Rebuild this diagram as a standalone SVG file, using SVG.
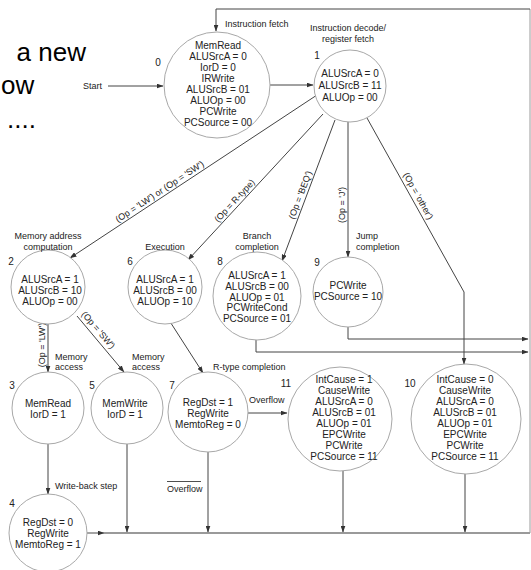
<svg xmlns="http://www.w3.org/2000/svg" width="531" height="570" viewBox="0 0 531 570">
  <style>
    .node circle { fill: #ffffff; stroke: #a8a8a8; stroke-width: 1; }
    .st { font-family: "Liberation Sans", Arial, sans-serif; font-size: 10px; fill: #222; text-anchor: middle; }
    .num { font-family: "Liberation Sans", Arial, sans-serif; font-size: 10px; fill: #222; text-anchor: middle; }
    .lbl { font-family: "Liberation Sans", Arial, sans-serif; font-size: 9px; fill: #222; }
    .mid { text-anchor: middle; }
    .edge { stroke: #444; stroke-width: 1; fill: none; }
    .bus { stroke: #9a9a9a; stroke-width: 1.8; fill: none; }
    .rail { stroke: #9a9a9a; stroke-width: 1; fill: none; }
    .title { font-family: "Liberation Sans", Arial, sans-serif; font-size: 26px; fill: #000; }
  </style>
  <defs>
    <marker id="arr" markerUnits="userSpaceOnUse" markerWidth="7" markerHeight="5" refX="6.5" refY="2.5" orient="auto">
      <path d="M0,0 L7,2.5 L0,5 z" fill="#333"/>
    </marker>
  </defs>

  <rect width="531" height="570" fill="#ffffff"/>

  <!-- slide title fragments -->
  <text class="title" x="86" y="61" text-anchor="end">a new</text>
  <text class="title" x="1" y="94">ow</text>
  <text class="title" x="36" y="128" text-anchor="end">....</text>

  <!-- connectors -->
  <g id="connectors">
    <!-- return path to instruction fetch -->
    <path class="bus" d="M87,533 H104" marker-end="url(#arr)"/>
    <path class="bus" d="M104,533 H530"/>
    <path class="rail" d="M530,533 V9"/>
    <path class="edge" d="M530,9 H216 V31" marker-end="url(#arr)"/>

    <path class="edge" d="M108,86 H163" marker-end="url(#arr)"/>
    <path class="edge" d="M270,85 H313" marker-end="url(#arr)"/>

    <path class="edge" d="M317,95 L70,258" marker-end="url(#arr)"/>
    <path class="edge" d="M323,114 L188,260" marker-end="url(#arr)"/>
    <path class="edge" d="M335,120 L282,261" marker-end="url(#arr)"/>
    <path class="edge" d="M348,122 V257" marker-end="url(#arr)"/>
    <path class="edge" d="M367,118 L464,292 V364" marker-end="url(#arr)"/>

    <path class="edge" d="M48,324 V372" marker-end="url(#arr)"/>
    <path class="edge" d="M77,316 L124,372" marker-end="url(#arr)"/>
    <path class="edge" d="M167,317 L203,373" marker-end="url(#arr)"/>

    <path class="edge" d="M48,444 V494" marker-end="url(#arr)"/>
    <path class="edge" d="M127,444 V532" marker-end="url(#arr)"/>
    <path class="edge" d="M208,452 V532" marker-end="url(#arr)"/>
    <path class="edge" d="M248,413 H287" marker-end="url(#arr)"/>
    <path class="edge" d="M343,471 V532" marker-end="url(#arr)"/>
    <path class="edge" d="M465,474 V532" marker-end="url(#arr)"/>

    <path class="edge" d="M256,340 V352 H528" marker-end="url(#arr)"/>
    <path class="edge" d="M348,327 V339 H528" marker-end="url(#arr)"/>

    <!-- condition labels -->
    <text class="lbl mid" transform="translate(163,196.6) rotate(-33.4)" y="-3">(Op = 'LW') or (Op = 'SW')</text>
    <text class="lbl mid" transform="translate(239,204.8) rotate(-47.2)" y="-3">(Op = R-type)</text>
    <text class="lbl mid" transform="translate(306,197) rotate(-69.4)" y="-3">(Op = 'BEQ')</text>
    <text class="lbl mid" transform="translate(348,205) rotate(-90)" y="-3">(Op = 'J')</text>
    <text class="lbl mid" transform="translate(413,199) rotate(60.9)" y="-3">(Op = 'other')</text>
    <text class="lbl mid" transform="translate(48,345) rotate(-90)" y="-3">(Op = 'LW')</text>
    <text class="lbl mid" transform="translate(93,334.6) rotate(49.4)" y="-4">(Op = 'SW')</text>

    <text class="lbl" x="225" y="27">Instruction fetch</text>
    <text class="lbl" x="83" y="89">Start</text>
    <text class="lbl" x="249" y="403">Overflow</text>
    <text class="lbl" x="167" y="492">Overflow</text>
    <line x1="167" y1="481.5" x2="201" y2="481.5" stroke="#222" stroke-width="0.8"/>
  </g>

  <!-- state 0 -->
  <g id="state0" class="node">
    <circle cx="217" cy="85" r="53"/>
    <text class="num" x="158" y="66">0</text>
    <text class="st" x="218" y="48.5">MemRead</text>
    <text class="st" x="218" y="59.5">ALUSrcA = 0</text>
    <text class="st" x="218" y="70.5">IorD = 0</text>
    <text class="st" x="218" y="81.5">IRWrite</text>
    <text class="st" x="218" y="92.5">ALUSrcB = 01</text>
    <text class="st" x="218" y="103.5">ALUOp = 00</text>
    <text class="st" x="218" y="114.5">PCWrite</text>
    <text class="st" x="218" y="125.5">PCSource = 00</text>
  </g>

  <!-- state 1 -->
  <g id="state1" class="node">
    <circle cx="350" cy="86" r="36"/>
    <text class="lbl mid" x="348" y="31">Instruction decode/</text>
    <text class="lbl mid" x="348" y="42">register fetch</text>
    <text class="num" x="317" y="59">1</text>
    <text class="st" x="350" y="76.5">ALUSrcA = 0</text>
    <text class="st" x="350" y="89">ALUSrcB = 11</text>
    <text class="st" x="350" y="101">ALUOp = 00</text>
  </g>

  <!-- state 2 -->
  <g id="state2" class="node">
    <circle cx="48" cy="287" r="37"/>
    <text class="lbl mid" x="48" y="239">Memory address</text>
    <text class="lbl mid" x="48" y="250">computation</text>
    <text class="num" x="11" y="265">2</text>
    <text class="st" x="50" y="282.5">ALUSrcA = 1</text>
    <text class="st" x="50" y="293.5">ALUSrcB = 10</text>
    <text class="st" x="50" y="304.5">ALUOp = 00</text>
  </g>

  <!-- state 6 -->
  <g id="state6" class="node">
    <circle cx="165" cy="287" r="37"/>
    <text class="lbl mid" x="165" y="250">Execution</text>
    <text class="num" x="130" y="265">6</text>
    <text class="st" x="165" y="282.5">ALUSrcA = 1</text>
    <text class="st" x="165" y="293.5">ALUSrcB = 00</text>
    <text class="st" x="165" y="304.5">ALUOp = 10</text>
  </g>

  <!-- state 8 -->
  <g id="state8" class="node">
    <circle cx="257" cy="296" r="44"/>
    <text class="lbl mid" x="257" y="239">Branch</text>
    <text class="lbl mid" x="257" y="250">completion</text>
    <text class="num" x="220" y="265">8</text>
    <text class="st" x="257" y="278.5">ALUSrcA = 1</text>
    <text class="st" x="257" y="289.5">ALUSrcB = 00</text>
    <text class="st" x="257" y="300.5">ALUOp = 01</text>
    <text class="st" x="257" y="311">PCWriteCond</text>
    <text class="st" x="257" y="321.5">PCSource = 01</text>
  </g>

  <!-- state 9 -->
  <g id="state9" class="node">
    <circle cx="348" cy="292" r="35"/>
    <text class="lbl" x="356" y="239">Jump</text>
    <text class="lbl" x="356" y="250">completion</text>
    <text class="num" x="317" y="266">9</text>
    <text class="st" x="348" y="288.5">PCWrite</text>
    <text class="st" x="348" y="299.5">PCSource = 10</text>
  </g>

  <!-- state 3 -->
  <g id="state3" class="node">
    <circle cx="48" cy="408" r="36"/>
    <text class="lbl" x="55" y="360">Memory</text>
    <text class="lbl" x="55" y="370">access</text>
    <text class="num" x="12" y="389">3</text>
    <text class="st" x="48" y="406.5">MemRead</text>
    <text class="st" x="48" y="417.5">IorD = 1</text>
  </g>

  <!-- state 5 -->
  <g id="state5" class="node">
    <circle cx="127" cy="408" r="36"/>
    <text class="lbl" x="132" y="360">Memory</text>
    <text class="lbl" x="132" y="370">access</text>
    <text class="num" x="92" y="389">5</text>
    <text class="st" x="125" y="406.5">MemWrite</text>
    <text class="st" x="125" y="417.5">IorD = 1</text>
  </g>

  <!-- state 7 -->
  <g id="state7" class="node">
    <circle cx="208" cy="412" r="40"/>
    <text class="lbl" x="213" y="370">R-type completion</text>
    <text class="num" x="172" y="389">7</text>
    <text class="st" x="208" y="405.5">RegDst = 1</text>
    <text class="st" x="208" y="416.5">RegWrite</text>
    <text class="st" x="208" y="427.5">MemtoReg = 0</text>
  </g>

  <!-- state 4 -->
  <g id="state4" class="node">
    <circle cx="48" cy="533" r="39"/>
    <text class="lbl" x="55" y="489">Write-back step</text>
    <text class="num" x="12" y="507">4</text>
    <text class="st" x="48" y="525.5">RegDst = 0</text>
    <text class="st" x="48" y="536.5">RegWrite</text>
    <text class="st" x="48" y="547.5">MemtoReg = 1</text>
  </g>

  <!-- state 11 -->
  <g id="state11" class="node">
    <circle cx="340" cy="419" r="52"/>
    <text class="num" x="286" y="387">11</text>
    <text class="st" x="344" y="382.5">IntCause = 1</text>
    <text class="st" x="344" y="393.5">CauseWrite</text>
    <text class="st" x="344" y="404.5">ALUSrcA = 0</text>
    <text class="st" x="344" y="415.5">ALUSrcB = 01</text>
    <text class="st" x="344" y="426.5">ALUOp = 01</text>
    <text class="st" x="344" y="437.5">EPCWrite</text>
    <text class="st" x="344" y="448.5">PCWrite</text>
    <text class="st" x="344" y="459.5">PCSource = 11</text>
  </g>

  <!-- state 10 -->
  <g id="state10" class="node">
    <circle cx="466" cy="419" r="55"/>
    <text class="num" x="410" y="387">10</text>
    <text class="st" x="465" y="382.5">IntCause = 0</text>
    <text class="st" x="465" y="393.5">CauseWrite</text>
    <text class="st" x="465" y="404.5">ALUSrcA = 0</text>
    <text class="st" x="465" y="415.5">ALUSrcB = 01</text>
    <text class="st" x="465" y="426.5">ALUOp = 01</text>
    <text class="st" x="465" y="437.5">EPCWrite</text>
    <text class="st" x="465" y="448.5">PCWrite</text>
    <text class="st" x="465" y="459.5">PCSource = 11</text>
  </g>
</svg>
